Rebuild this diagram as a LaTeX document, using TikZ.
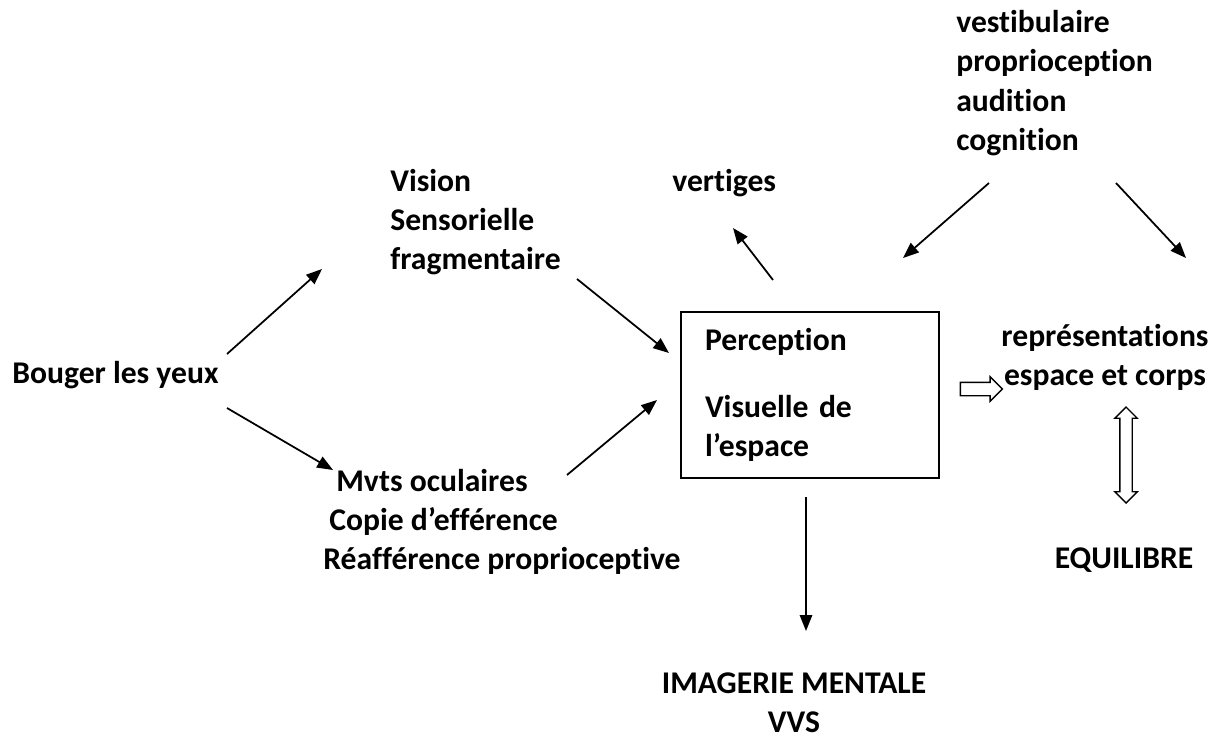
\documentclass[tikz,border=0pt]{standalone}
\usepackage{fontspec}
\setmainfont{Carlito}[Ligatures=NoCommon]
\usetikzlibrary{arrows.meta,shapes.arrows}
\tikzset{
  lbl/.style={font=\bfseries\fontsize{18}{22.3}\selectfont, inner sep=0pt, align=left},
  arr/.style={-{Triangle[length=9pt,width=7pt]}, line width=1pt},
  hollow/.style={draw, line width=0.8pt, inner sep=0.12cm, minimum width=0pt}
}
\begin{document}
\begin{tikzpicture}[x=0.02cm, y=-0.02cm]
    \useasboundingbox (0,0) rectangle (1213,743);
    % textes
    \node[lbl, anchor=west] (bouger) at (12,375) {Bouger les yeux};
    \node[lbl, anchor=west] (vision) at (390,222) {Vision\\Sensorielle\\fragmentaire};
    \node[lbl, anchor=west] (vertiges) at (672,183) {vertiges};
    \node[lbl, anchor=west] (vestib) at (956,83) {vestibulaire\\proprioception\\audition\\cognition};
    \node[lbl, anchor=west] (mvts) at (323,522) {\hspace{0.26cm}Mvts oculaires\\\hspace{0.12cm}Copie d’efférence\\Réafférence proprioceptive};
    \node[lbl, align=center] (repr) at (1105,357) {représentations\\espace et corps};
    \node[lbl] (equil) at (1124,560) {EQUILIBRE};
    \node[lbl, align=center] (imag) at (794,703) {IMAGERIE MENTALE\\VVS};
    % boite centrale
    \node[lbl, draw, line width=1.2pt, text width=4.2cm, inner xsep=0.48cm,
          minimum height=3.32cm] (box) at (810,395)
          {Perception\\[0.54cm]Visuelle de\\l’espace};
    % points des fleches
    \coordinate (bUp) at (227,354);   \coordinate (visIn) at (322,269);
    \coordinate (bDn) at (227,408);   \coordinate (mvtIn) at (333,470);
    \coordinate (visOut) at (577,279); \coordinate (boxInA) at (669,353);
    \coordinate (mvtOut) at (567,475); \coordinate (boxInB) at (657,400);
    \coordinate (boxTop) at (773,280); \coordinate (vertIn) at (733,228);
    \coordinate (vesA) at (989,183);  \coordinate (vesAin) at (903,258);
    \coordinate (vesB) at (1116,183); \coordinate (vesBin) at (1186,258);
    \coordinate (boxBot) at (806,497); \coordinate (imagIn) at (806,631);
    % fleches
    \draw[arr] (bUp) -- (visIn);
    \draw[arr] (bDn) -- (mvtIn);
    \draw[arr] (visOut) -- (boxInA);
    \draw[arr] (mvtOut) -- (boxInB);
    \draw[arr] (boxTop) -- (vertIn);
    \draw[arr] (vesA) -- (vesAin);
    \draw[arr] (vesB) -- (vesBin);
    \draw[arr] (boxBot) -- (imagIn);
    % fleches creuses
    \node[hollow, single arrow, single arrow head extend=0.11cm,
          minimum height=0.84cm] (toRepr) at (978,389) {};
    \node[hollow, double arrow, double arrow head extend=0.1cm, inner sep=0.11cm,
          minimum height=1.92cm, rotate=90] (toEquil) at (1126,455) {};
\end{tikzpicture}
\end{document}
